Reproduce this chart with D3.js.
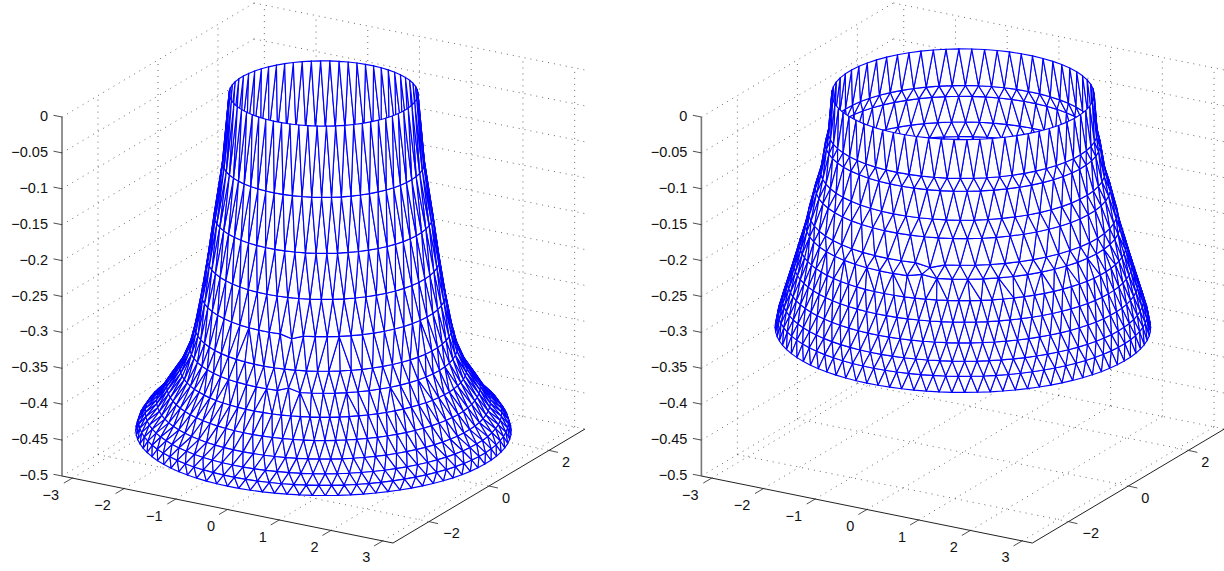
<!DOCTYPE html>
<html>
<head>
<meta charset="utf-8">
<script src="https://cdn.jsdelivr.net/npm/d3@7"></script>
<style>
  body { margin: 0; background: #fff; overflow: hidden; }
  text { font-family: "Liberation Sans", Arial, sans-serif; font-size: 14.5px; fill: #111; }
</style>
</head>
<body>
<script>
var w = 1224,
    h = 571;

// tick values
var xTicks = [-3, -2, -1, 0, 1, 2, 3];
var yTicks = [-2, 0, 2];
var zTicks = [0, -0.05, -0.1, -0.15, -0.2, -0.25, -0.3, -0.35, -0.4, -0.45, -0.5];

// left surface: one entry per ring, top rim first
var leftRingRadius = [1.58, 1.69, 1.83, 1.94, 2.04, 2.15, 2.24, 2.40, 2.62, 2.79, 2.98, 3.09, 3.14];
var leftRingZ = [0, -0.096, -0.170, -0.231, -0.280, -0.325, -0.353, -0.382, -0.408, -0.429, -0.444, -0.457, -0.4695];
var leftRingNodes = [64, 64, 64, 64, 64, 72, 72, 92, 92, 92, 92, 92, 92];
var leftDentRings = [4, 6];
var leftDentZ = [-0.005, 0.005];

// right surface
var rightRingRadius = [2.195, 2.25, 2.30, 2.38, 2.47, 2.58, 2.63, 2.73, 2.83, 2.93, 3.02, 3.09, 3.14];
var rightRingZ = [-0.001, -0.0535, -0.070, -0.108, -0.131, -0.165, -0.183, -0.210, -0.237, -0.263, -0.286, -0.305, -0.326];
var rightRingNodes = [64, 64, 64, 64, 64, 64, 64, 92, 92, 92, 92, 92, 92];
var rightDentRings = [5, 6];
var rightDentZ = [-0.005, 0.004];

var seamAngle = -75 * Math.PI / 180;

// axes box limits
var xyLim = [-3.2, 3.2];
var zLim = [-0.5, 0];

// the 3d view is three pairs of scales, in pixels from the front left corner
var xToPx = d3.scaleLinear().domain(xyLim).range([0, 331]),
    xToPy = d3.scaleLinear().domain(xyLim).range([0, 67]),
    yToPx = d3.scaleLinear().domain(xyLim).range([0, 192]),
    yToPy = d3.scaleLinear().domain(xyLim).range([0, -114]),
    zToPy = d3.scaleLinear().domain(zLim).range([0, -359]);

function project(x, y, z) {
    return [xToPx(x) + yToPx(y), xToPy(x) + yToPy(y) + zToPy(z)];
}

var svg = d3.select('body')
    .append('svg')
    .attr('width', w)
    .attr('height', h);

var line = d3.line();

function fmt(v) {
    return String(v).replace('-', '\u2212');
}

// depth along the view direction (az 30, el 20), bigger is nearer
function depth(p) {
    return (0.5 * p[0] - 0.866 * p[1]) * 0.94 + p[2] * 12.8 * 0.342;
}

function buildTriangles(radius, zs, nodes, dentRings, dentZ) {
    var rings = radius.map(function(r, k) {
        var n = nodes[k],
            step = 2 * Math.PI / n,
            start = seamAngle + (k % 2) * step / 2;
        return d3.range(n).map(function(i) {
            var a = start + i * step,
                dent = dentRings.indexOf(k),
                z = zs[k] + (i == 0 && dent >= 0 ? dentZ[dent] : 0);
            return {a: a, p: [r * Math.cos(a), r * Math.sin(a), z]};
        });
    });

    var tris = [];
    for (var k = 0; k < rings.length - 1; k++) {
        var ra = rings[k],
            rb = rings[k + 1],
            na = ra.length,
            nb = rb.length,
            stepA = 2 * Math.PI / na,
            stepB = 2 * Math.PI / nb,
            i = 0,
            j = 0;
        // walk both rings round by angle, one triangle per step
        while (i < na || j < nb) {
            var nextA = ra[0].a + (i + 1) * stepA,
                nextB = rb[0].a + (j + 1) * stepB;
            if (j >= nb || (i < na && nextA <= nextB)) {
                tris.push([ra[i % na].p, ra[(i + 1) % na].p, rb[j % nb].p]);
                i++;
            } else {
                tris.push([ra[i % na].p, rb[j % nb].p, rb[(j + 1) % nb].p]);
                j++;
            }
        }
    }
    tris.sort(function(a, b) {
        return d3.ascending(d3.sum(a, depth), d3.sum(b, depth));
    });
    return tris;
}

function drawPanel(x0, y0, radius, zs, nodes, dentRings, dentZ) {
    var g = svg.append('g').attr('transform', 'translate(' + x0 + ',' + y0 + ')');

    // dotted grid on the two back walls and the floor
    var gridLines = [];
    zTicks.forEach(function(z) {
        gridLines.push([[xyLim[0], xyLim[0], z], [xyLim[0], xyLim[1], z]]);
        gridLines.push([[xyLim[0], xyLim[1], z], [xyLim[1], xyLim[1], z]]);
    });
    xTicks.forEach(function(x) {
        gridLines.push([[x, xyLim[0], zLim[0]], [x, xyLim[1], zLim[0]]]);
        gridLines.push([[x, xyLim[1], zLim[0]], [x, xyLim[1], zLim[1]]]);
    });
    yTicks.forEach(function(y) {
        gridLines.push([[xyLim[0], y, zLim[0]], [xyLim[1], y, zLim[0]]]);
        gridLines.push([[xyLim[0], y, zLim[0]], [xyLim[0], y, zLim[1]]]);
    });

    g.append('g').selectAll('path')
        .data(gridLines)
        .enter()
        .append('path')
        .attr('d', function(d) {
            return line(d.map(function(p) { return project(p[0], p[1], p[2]); }));
        })
        .attr('fill', 'none')
        .attr('stroke', '#444')
        .attr('stroke-width', 0.8)
        .attr('stroke-dasharray', '1,5');

    // axis lines
    var corner = [xyLim[0], xyLim[0], zLim[0]];
    var axisLines = [
        {d: [corner, [xyLim[1], xyLim[0], zLim[0]]], c: '#222', sw: 1},
        {d: [[xyLim[1], xyLim[0], zLim[0]], [xyLim[1], xyLim[1], zLim[0]]], c: '#222', sw: 1},
        {d: [corner, [xyLim[0], xyLim[0], zLim[1]]], c: '#777', sw: 1.6}
    ];
    g.append('g').selectAll('path')
        .data(axisLines)
        .enter()
        .append('path')
        .attr('d', function(d) {
            return line(d.d.map(function(p) { return project(p[0], p[1], p[2]); }));
        })
        .attr('fill', 'none')
        .attr('stroke', function(d) { return d.c; })
        .attr('stroke-width', function(d) { return d.sw; });

    // x ticks
    var xt = g.append('g').selectAll('g')
        .data(xTicks)
        .enter()
        .append('g')
        .attr('transform', function(d) {
            return 'translate(' + project(d, xyLim[0], zLim[0]) + ')';
        });
    xt.append('line').attr('x2', -8.5).attr('y2', 5).attr('stroke', '#222').attr('stroke-width', 0.8);
    xt.append('text')
        .attr('x', function(d) { return d < 0 ? -21.5 : -16.5; })
        .attr('y', 16.5)
        .attr('dy', '.35em')
        .attr('text-anchor', 'middle')
        .text(fmt);

    // y ticks
    var yt = g.append('g').selectAll('g')
        .data(yTicks)
        .enter()
        .append('g')
        .attr('transform', function(d) {
            return 'translate(' + project(xyLim[1], d, zLim[0]) + ')';
        });
    yt.append('line').attr('x2', 9).attr('y2', 2).attr('stroke', '#222').attr('stroke-width', 0.8);
    yt.append('text')
        .attr('x', function(d) { return d < 0 ? 22.5 : 17; })
        .attr('y', 11.5)
        .attr('dy', '.35em')
        .attr('text-anchor', 'middle')
        .text(fmt);

    // z ticks
    var zt = g.append('g').selectAll('g')
        .data(zTicks)
        .enter()
        .append('g')
        .attr('transform', function(d) {
            return 'translate(' + project(xyLim[0], xyLim[0], d) + ')';
        });
    zt.append('line').attr('x2', -8.5).attr('y2', -1.7).attr('stroke', '#222').attr('stroke-width', 0.8);
    zt.append('text')
        .attr('x', -14)
        .attr('y', -1)
        .attr('dy', '.35em')
        .attr('text-anchor', 'end')
        .text(fmt);

    // white faces drawn far to near hide whatever is behind them
    g.append('g').selectAll('path')
        .data(buildTriangles(radius, zs, nodes, dentRings, dentZ))
        .enter()
        .append('path')
        .attr('d', function(d) {
            return line(d.map(function(p) { return project(p[0], p[1], p[2]); })) + 'Z';
        })
        .attr('fill', '#fff')
        .attr('stroke', '#0000ff')
        .attr('stroke-width', 1.15)
        .attr('stroke-linejoin', 'round');
}

drawPanel(62, 476, leftRingRadius, leftRingZ, leftRingNodes, leftDentRings, leftDentZ);
drawPanel(701.4, 476, rightRingRadius, rightRingZ, rightRingNodes, rightDentRings, rightDentZ);
</script>
</body>
</html>
